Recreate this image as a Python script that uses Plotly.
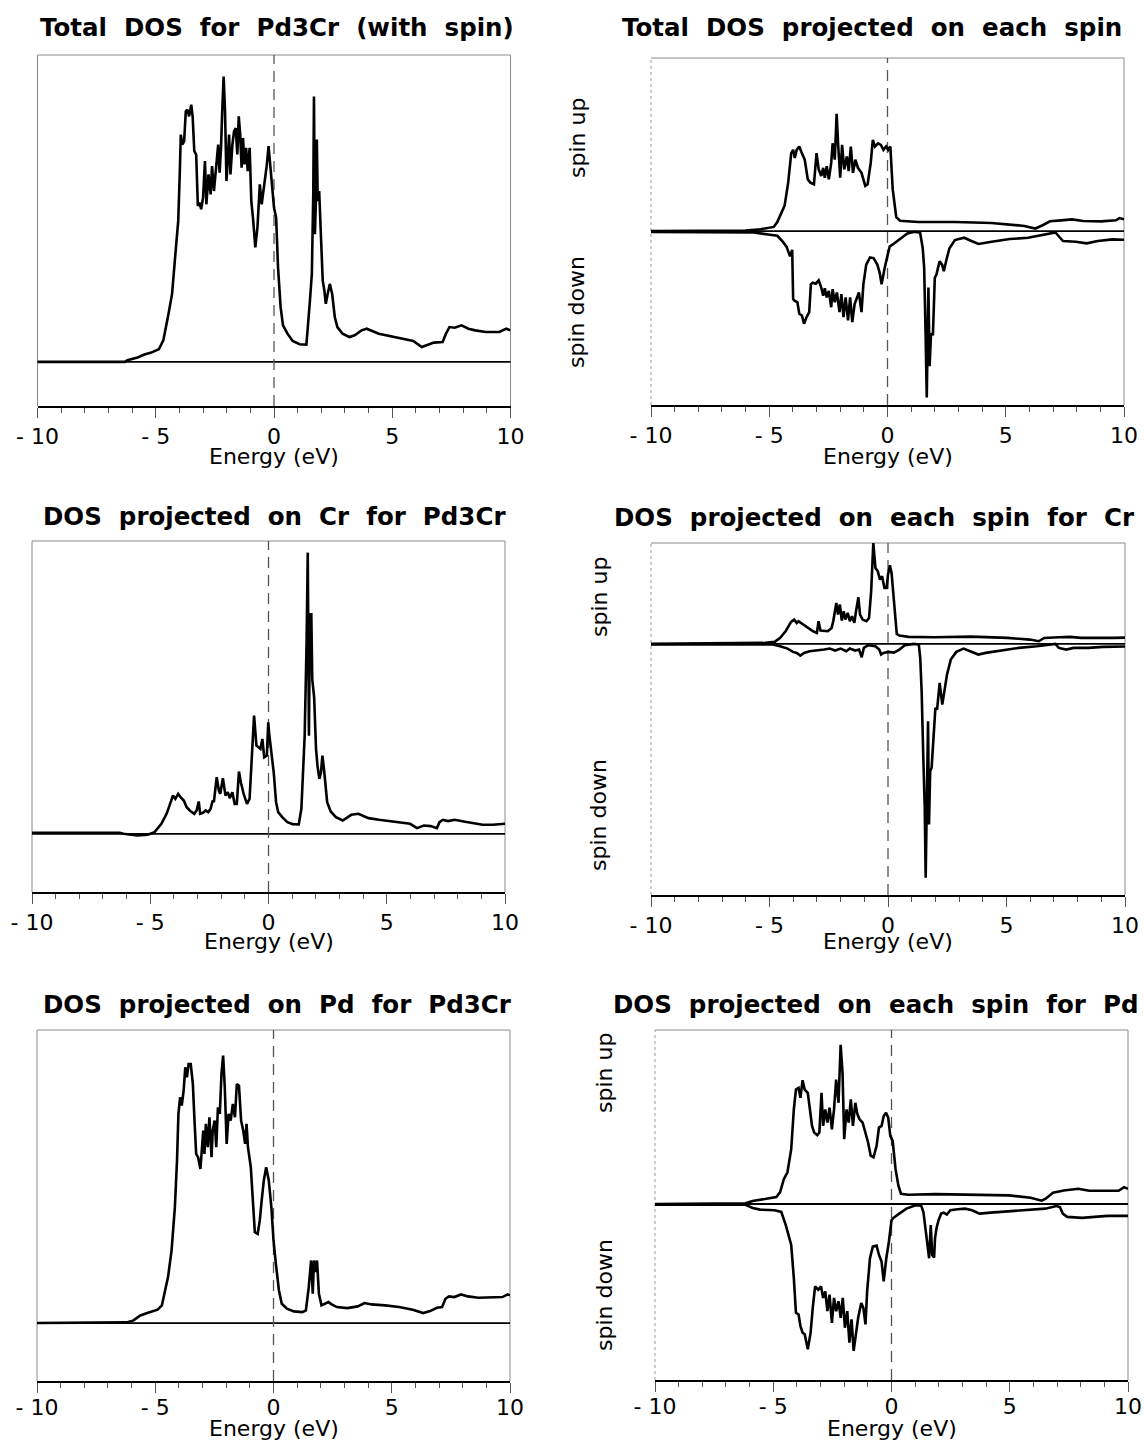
import plotly.graph_objects as go

W, H = 1144, 1441

# ---------------- data (energy in eV, DOS in arbitrary units) ----------------
tot_e = [-10, -6.3, -6.2, -5.77, -5.48, -5.19, -4.87, -4.68, -4.46, -4.31,
         -4.17, -4.05, -3.99, -3.94, -3.88, -3.80, -3.73, -3.66, -3.59, -3.50,
         -3.44, -3.37, -3.29, -3.22, -3.15, -3.08, -3.00, -2.92, -2.86, -2.77,
         -2.68, -2.62, -2.54, -2.45, -2.36, -2.30, -2.24, -2.19, -2.13, -2.07,
         -2.01, -1.95, -1.90, -1.84, -1.76, -1.69, -1.62, -1.55, -1.49, -1.43,
         -1.37, -1.31, -1.25, -1.18, -1.11, -1.03, -0.96, -0.89, -0.79, -0.70,
         -0.60, -0.52, -0.45, -0.38, -0.31, -0.23, -0.16, -0.09, 0.0, 0.09,
         0.17, 0.28, 0.38, 0.57, 0.79, 1.08, 1.37, 1.52, 1.60, 1.66,
         1.69, 1.73, 1.78, 1.81, 1.85, 1.91, 1.98, 2.06, 2.13, 2.19,
         2.27, 2.36, 2.46, 2.57, 2.68, 2.90, 3.19, 3.41, 3.70, 3.92,
         4.43, 5.16, 5.89, 6.25, 6.47, 6.76, 7.13, 7.27, 7.42, 7.64,
         7.93, 8.22, 8.51, 8.95, 9.53, 9.82, 10.0]
tot_dos = [0, 0, 5, 13, 22, 28, 38, 65, 145, 205,
           325, 425, 555, 685, 655, 665, 755, 760, 740, 775,
           740, 635, 625, 470, 480, 460, 495, 605, 475, 565,
           505, 590, 515, 580, 655, 570, 645, 755, 860, 755,
           545, 615, 685, 565, 655, 695, 705, 625, 740, 685,
           585, 675, 595, 645, 575, 645, 485, 435, 345, 405,
           535, 475, 515, 545, 590, 650, 585, 545, 465, 435,
           285, 165, 110, 85, 63, 53, 52, 185, 265, 505,
           800, 385, 505, 670, 485, 515, 365, 245, 215, 175,
           205, 235, 205, 135, 105, 85, 75, 80, 95, 100,
           85, 75, 63, 45, 50, 58, 60, 85, 105, 103,
           110, 100, 95, 90, 90, 100, 95]

tot_up_e = [-10, -6.0, -5.36, -4.81, -4.66, -4.50, -4.35, -4.20, -4.07, -3.99,
            -3.92, -3.84, -3.73, -3.65, -3.50, -3.37, -3.26, -3.11, -3.00, -2.91,
            -2.80, -2.72, -2.65, -2.57, -2.48, -2.38, -2.32, -2.23, -2.15, -2.09,
            -2.00, -1.92, -1.83, -1.72, -1.64, -1.55, -1.46, -1.36, -1.25, -1.10,
            -0.94, -0.84, -0.71, -0.62, -0.53, -0.40, -0.28, -0.17, -0.06, 0.03,
            0.12, 0.22, 0.37, 0.53, 1.30, 2.85, 4.40, 5.79, 6.25, 6.56,
            6.87, 7.34, 7.80, 8.27, 9.04, 9.66, 9.81, 10.0]
tot_up_dos = [0, 2, 6, 13, 28, 53, 78, 148, 238, 248,
              223, 248, 258, 243, 218, 158, 148, 143, 238, 188,
              168, 193, 163, 198, 158, 208, 268, 218, 358, 268,
              163, 263, 188, 228, 183, 258, 178, 218, 193, 178,
              138, 143, 208, 278, 258, 268, 263, 248, 258, 248,
              258, 128, 43, 32, 28, 28, 25, 16, 8, 18,
              30, 33, 36, 31, 30, 33, 40, 36]

tot_dn_e = [-10, -6.3, -5.67, -5.05, -4.66, -4.43, -4.27, -4.12, -4.03, -3.99,
            -3.93, -3.81, -3.73, -3.62, -3.53, -3.42, -3.31, -3.24, -3.16, -3.03,
            -2.91, -2.80, -2.72, -2.65, -2.57, -2.48, -2.38, -2.32, -2.23, -2.14,
            -2.03, -1.95, -1.86, -1.77, -1.67, -1.58, -1.49, -1.39, -1.30, -1.21,
            -1.10, -1.02, -0.90, -0.74, -0.59, -0.43, -0.33, -0.25, -0.12, 0.0,
            0.09, 0.29, 0.53, 0.84, 1.15, 1.38, 1.49, 1.55, 1.61, 1.66,
            1.70, 1.73, 1.78, 1.84, 1.92, 2.00, 2.07, 2.20, 2.31, 2.38,
            2.51, 2.62, 2.85, 3.24, 3.55, 3.85, 4.40, 5.17, 5.94, 6.72,
            7.10, 7.26, 7.42, 7.96, 8.42, 8.89, 9.51, 10.0]
tot_dn_dos = [-2, -2, -4, -10, -14, -32, -47, -77, -57, -207,
              -212, -217, -252, -257, -282, -262, -247, -162, -157, -160,
              -150, -172, -197, -174, -202, -182, -232, -177, -217, -187,
              -247, -192, -262, -202, -272, -202, -277, -222, -207, -187,
              -247, -162, -102, -80, -82, -102, -127, -162, -112, -72,
              -47, -37, -24, -7, -2, -5, -52, -112, -312, -507,
              -312, -172, -412, -312, -317, -142, -132, -92, -102, -122,
              -82, -52, -27, -20, -30, -39, -32, -24, -20, -10,
              -4, -17, -30, -32, -37, -30, -25, -26]

cr_e = [-10, -6.3, -6.13, -5.55, -5.11, -4.82, -4.53, -4.31, -4.16, -4.04,
        -3.94, -3.82, -3.72, -3.58, -3.46, -3.33, -3.14, -3.04, -2.95, -2.89,
        -2.77, -2.66, -2.55, -2.45, -2.36, -2.31, -2.19, -2.10, -2.04, -1.93,
        -1.82, -1.72, -1.64, -1.53, -1.43, -1.34, -1.25, -1.17, -1.05, -0.91,
        -0.80, -0.73, -0.61, -0.51, -0.41, -0.34, -0.26, -0.18, -0.07, -0.01,
        0.03, 0.10, 0.22, 0.32, 0.41, 0.58, 0.80, 1.02, 1.28, 1.39,
        1.46, 1.53, 1.61, 1.66, 1.71, 1.75, 1.81, 1.85, 1.93, 2.01,
        2.07, 2.15, 2.22, 2.28, 2.36, 2.48, 2.63, 2.85, 3.14, 3.36,
        3.50, 3.80, 4.23, 4.67, 5.40, 5.99, 6.28, 6.57, 6.86, 7.12,
        7.23, 7.37, 7.59, 7.88, 8.25, 8.61, 9.05, 9.49, 10.0]
cr_dos = [3, 3, 0, -5, -3, 5, 30, 60, 90, 115,
          105, 120, 110, 100, 80, 70, 60, 70, 97, 60,
          63, 70, 65, 75, 100, 95, 170, 130, 120, 167,
          115, 125, 107, 125, 90, 90, 187, 155, 120, 90,
          105, 205, 355, 265, 260, 255, 285, 230, 235, 335,
          300, 255, 185, 95, 65, 50, 35, 29, 28, 75,
          165, 295, 575, 845, 295, 660, 660, 465, 410, 255,
          205, 165, 185, 235, 185, 95, 67, 50, 40, 50,
          57, 60, 47, 42, 35, 30, 17, 25, 23, 17,
          35, 42, 38, 42, 37, 32, 27, 27, 30]

cr_up_e = [-10, -5.79, -5.17, -4.78, -4.55, -4.32, -4.09, -3.96, -3.85, -3.78,
           -3.62, -3.47, -3.31, -3.16, -3.00, -2.93, -2.85, -2.69, -2.54, -2.38,
           -2.31, -2.18, -2.11, -2.03, -1.95, -1.87, -1.80, -1.70, -1.61, -1.52,
           -1.42, -1.35, -1.25, -1.18, -1.07, -0.91, -0.80, -0.71, -0.62, -0.53,
           -0.43, -0.34, -0.25, -0.15, -0.06, 0.0, 0.08, 0.15, 0.25, 0.37,
           0.48, 0.87, 1.95, 3.50, 5.05, 5.98, 6.36, 6.59, 7.21, 7.68,
           8.14, 8.92, 9.54, 10.0]
cr_up_dos = [0, 3, 3, 6, 18, 38, 66, 73, 63, 68,
             60, 53, 45, 38, 33, 68, 40, 40, 38, 48,
             68, 123, 88, 118, 70, 98, 73, 93, 68, 83,
             63, 98, 140, 88, 73, 68, 78, 158, 303, 228,
             218, 193, 203, 168, 168, 208, 236, 213, 128, 30,
             25, 21, 20, 22, 18, 13, 8, 18, 20, 21,
             18, 17, 18, 19]

cr_dn_e = [-10, -4.86, -4.55, -4.24, -4.01, -3.85, -3.70, -3.54, -3.31, -3.00,
           -2.69, -2.46, -2.23, -2.00, -1.76, -1.61, -1.38, -1.22, -1.11, -1.02,
           -0.84, -0.53, -0.37, -0.29, -0.19, 0.02, 0.25, 0.48, 0.71, 1.10,
           1.30, 1.36, 1.42, 1.49, 1.55, 1.59, 1.64, 1.69, 1.73, 1.78,
           1.84, 1.92, 2.00, 2.07, 2.18, 2.29, 2.38, 2.49, 2.65, 2.88,
           3.19, 3.50, 3.81, 4.12, 4.74, 5.51, 6.28, 6.75, 7.06, 7.21,
           7.52, 7.83, 8.45, 9.07, 10.0]
cr_dn_dos = [-2, -2, -7, -14, -24, -27, -35, -27, -22, -20,
             -17, -14, -20, -14, -22, -14, -20, -17, -40, -12,
             -4, -7, -17, -32, -27, -24, -26, -17, -4, 0,
             -2, -42, -142, -342, -492, -702, -442, -232, -542, -382,
             -372, -262, -192, -197, -117, -182, -142, -92, -47, -24,
             -14, -22, -32, -27, -20, -12, -7, -2, 0, -12,
             -17, -12, -12, -9, -8]

pd_e = [-10, -6.3, -6.21, -5.92, -5.63, -5.34, -4.90, -4.72, -4.61, -4.46,
        -4.31, -4.17, -4.08, -4.02, -3.95, -3.88, -3.80, -3.73, -3.66, -3.59,
        -3.50, -3.41, -3.34, -3.27, -3.19, -3.09, -2.97, -2.92, -2.86, -2.78,
        -2.71, -2.62, -2.57, -2.49, -2.42, -2.35, -2.27, -2.20, -2.13, -2.06,
        -1.98, -1.90, -1.81, -1.72, -1.63, -1.55, -1.46, -1.37, -1.28, -1.20,
        -1.14, -1.08, -0.96, -0.86, -0.79, -0.67, -0.58, -0.50, -0.41, -0.31,
        -0.20, -0.09, 0.0, 0.10, 0.23, 0.35, 0.57, 0.86, 1.22, 1.37,
        1.49, 1.59, 1.66, 1.71, 1.78, 1.84, 1.92, 2.03, 2.17, 2.32,
        2.46, 2.68, 3.12, 3.56, 3.85, 4.15, 4.72, 5.31, 5.89, 6.33,
        6.62, 6.91, 7.13, 7.27, 7.42, 7.64, 7.93, 8.22, 8.66, 9.10,
        9.68, 9.90, 10.0]
pd_dos = [0, 0, 2, 8, 23, 30, 40, 53, 88, 138,
          218, 348, 488, 628, 678, 653, 698, 768, 738, 778,
          778, 718, 608, 508, 498, 463, 578, 508, 598, 528,
          618, 498, 578, 608, 528, 648, 628, 748, 803, 708,
          538, 628, 608, 658, 618, 718, 713, 608, 578, 538,
          598, 528, 468, 348, 273, 268, 308, 368, 428, 468,
          428, 348, 248, 178, 98, 58, 43, 35, 33, 38,
          108, 188, 88, 188, 153, 188, 88, 53, 58, 63,
          56, 48, 45, 50, 60, 56, 53, 48, 40, 30,
          36, 46, 48, 73, 80, 78, 86, 80, 76, 76,
          78, 86, 83]

pd_up_e = [-10, -6.2, -6.18, -5.87, -5.26, -4.87, -4.71, -4.55, -4.40, -4.24,
           -4.13, -4.04, -3.93, -3.85, -3.76, -3.67, -3.54, -3.44, -3.36, -3.27,
           -3.14, -3.05, -2.96, -2.89, -2.80, -2.71, -2.62, -2.52, -2.43, -2.34,
           -2.24, -2.15, -2.07, -2.00, -1.90, -1.81, -1.72, -1.63, -1.53, -1.44,
           -1.35, -1.22, -1.10, -0.99, -0.88, -0.76, -0.63, -0.53, -0.42, -0.33,
           -0.23, -0.14, -0.05, 0.05, 0.17, 0.29, 0.40, 0.71, 1.87, 3.41,
           4.96, 5.88, 6.35, 6.52, 6.83, 7.28, 7.90, 8.36, 8.98, 9.60,
           9.83, 10.0]
pd_up_dos = [0, 0, 2, 9, 16, 21, 36, 76, 96, 166,
             286, 346, 351, 321, 374, 346, 336, 286, 236, 216,
             208, 216, 336, 236, 286, 246, 291, 226, 286, 376,
             306, 481, 396, 196, 286, 246, 316, 236, 306, 271,
             256, 246, 216, 186, 146, 141, 176, 231, 236, 266,
             276, 261, 206, 191, 106, 56, 31, 28, 30, 29,
             26, 19, 10, 16, 34, 41, 46, 40, 39, 40,
             51, 46]

pd_dn_e = [-10, -6.2, -5.87, -5.56, -4.94, -4.66, -4.47, -4.24, -4.13, -4.04,
           -3.93, -3.85, -3.76, -3.67, -3.54, -3.42, -3.33, -3.23, -3.10, -2.98,
           -2.89, -2.80, -2.71, -2.62, -2.52, -2.43, -2.34, -2.24, -2.15, -2.06,
           -1.97, -1.87, -1.78, -1.69, -1.60, -1.50, -1.41, -1.28, -1.19, -1.10,
           -1.03, -0.91, -0.79, -0.63, -0.53, -0.42, -0.33, -0.22, -0.11, 0.0,
           0.08, 0.33, 0.63, 1.02, 1.25, 1.35, 1.44, 1.53, 1.59, 1.66,
           1.72, 1.80, 1.84, 1.90, 1.99, 2.10, 2.21, 2.34, 2.49, 2.80,
           3.11, 3.41, 3.72, 4.19, 4.96, 5.73, 6.50, 6.97, 7.12, 7.24,
           7.43, 8.05, 8.51, 9.13, 10.0]
pd_dn_dos = [-2, -2, -12, -17, -19, -24, -64, -124, -224, -329,
             -334, -369, -389, -394, -439, -389, -314, -249, -259, -249,
             -284, -264, -324, -274, -359, -284, -324, -294, -344, -284,
             -374, -324, -419, -349, -444, -394, -344, -299, -314, -364,
             -264, -164, -129, -126, -154, -174, -234, -164, -114, -49,
             -42, -29, -14, -4, -4, -24, -74, -114, -164, -64,
             -154, -162, -104, -74, -49, -29, -26, -32, -19, -16,
             -14, -19, -29, -26, -22, -20, -14, -6, -9, -29,
             -39, -42, -39, -36, -36]

tick_vals = [-10, -5, 0, 5, 10]
tick_text = ["- 10", "- 5", "0", "5", "10"]
x_label = "Energy (eV)"
spin_up_label = "spin up"
spin_down_label = "spin down"
titles = ["Total DOS for Pd3Cr (with spin)",
          "Total DOS projected on each spin",
          "DOS projected on Cr for Pd3Cr",
          "DOS projected on each spin for Cr",
          "DOS projected on Pd for Pd3Cr",
          "DOS projected on each spin for Pd"]
series = [
    [(tot_e, tot_dos)],
    [(tot_up_e, tot_up_dos), (tot_dn_e, tot_dn_dos)],
    [(cr_e, cr_dos)],
    [(cr_up_e, cr_up_dos), (cr_dn_e, cr_dn_dos)],
    [(pd_e, pd_dos)],
    [(pd_up_e, pd_up_dos), (pd_dn_e, pd_dn_dos)],
]
y_ranges = [(-133, 925), (-530, 528), (-175, 880), (-754, 303), (-174, 880), (-532, 526)]

# ---------------- layout geometry (pixels) ----------------
# x0, x1, ytop, ybottom, title center x, title y, x-label y, tick-label standoff
geom = [
    (37.5, 510.5, 55, 406, 277, 28, 456, 0),
    (651, 1124, 58, 405, 872, 28, 456, 0),
    (32, 505, 541, 892, 274, 516, 941, 0),
    (651, 1125, 543, 895, 874, 517, 941, 0),
    (37, 510, 1030, 1381, 277, 1004, 1428, -4),
    (655, 1128, 1030, 1380, 875, 1004, 1428, -4),
]
# spin label x, spin-up y, spin-down y (pixels); None for non-spin panels
spin_pos = [None, (577, 138, 312), None, (599, 597, 815), None, (604, 1073, 1295)]

FONT = "DejaVu Sans, Verdana, sans-serif"
GAP = " \u00a0"

fig = go.Figure()
layout = dict(width=W, height=H, margin=dict(l=0, r=0, t=0, b=0),
              paper_bgcolor="white", plot_bgcolor="white", showlegend=False)
shapes = []
annotations = []

for i, (g, ser, yr, sp) in enumerate(zip(geom, series, y_ranges, spin_pos), start=1):
    x0, x1, yt, yb, tx, ty, ly, stand = g
    xa = "x" if i == 1 else f"x{i}"
    ya = "y" if i == 1 else f"y{i}"
    xk = "xaxis" if i == 1 else f"xaxis{i}"
    yk = "yaxis" if i == 1 else f"yaxis{i}"
    for e, d in ser:
        fig.add_trace(go.Scatter(x=e, y=d, mode="lines", xaxis=xa, yaxis=ya,
                                 line=dict(color="black", width=2.6),
                                 hoverinfo="skip", showlegend=False))
    layout[xk] = dict(domain=[x0 / W, x1 / W], range=[-10, 10], anchor=ya,
                      tickmode="array", tickvals=tick_vals, ticktext=tick_text,
                      ticks="outside", ticklen=10, tickwidth=1, tickcolor="#555",
                      minor=dict(tickmode="linear", tick0=0, dtick=1, ticks="outside",
                                 ticklen=5, tickwidth=1, tickcolor="#555", showgrid=False),
                      showline=True, linecolor="black", linewidth=1.5,
                      showgrid=False, zeroline=False, automargin=False,
                      ticklabelstandoff=stand,
                      tickfont=dict(family=FONT, size=22, color="black"))
    layout[yk] = dict(domain=[1 - yb / H, 1 - yt / H], range=list(yr), anchor=xa,
                      visible=False, showgrid=False, zeroline=False, automargin=False)

    xd = f"{xa} domain"
    yd = f"{ya} domain"
    frame = dict(color="#8a8a8a", width=1)
    shapes.append(dict(type="line", xref=xd, yref=yd, x0=0, x1=1, y0=1, y1=1, line=frame, layer="below"))
    shapes.append(dict(type="line", xref=xd, yref=yd, x0=1, x1=1, y0=0, y1=1, line=frame, layer="below"))
    if sp:
        shapes.append(dict(type="line", xref=xd, yref=yd, x0=0, x1=0, y0=0, y1=1,
                           line=dict(color="#9a9a9a", width=1, dash="dot"), layer="below"))
    else:
        shapes.append(dict(type="line", xref=xd, yref=yd, x0=0, x1=0, y0=0, y1=1, line=frame, layer="below"))
    # zero baseline
    shapes.append(dict(type="line", xref=xd, yref=ya, x0=0, x1=1, y0=0, y1=0,
                       line=dict(color="black", width=1.8), layer="below"))
    # Fermi level
    shapes.append(dict(type="line", xref=xa, yref=yd, x0=0, x1=0, y0=0, y1=1,
                       line=dict(color="#555", width=1.3, dash="11px,7px"), layer="below"))

    annotations.append(dict(text=GAP.join(titles[i - 1].split(" ")), xref="paper", yref="paper",
                            x=tx / W, y=1 - ty / H, xanchor="center", yanchor="middle",
                            showarrow=False,
                            font=dict(family=FONT, size=24.5, color="black", weight="bold")))
    annotations.append(dict(text=x_label, xref=xa, yref="paper", x=0, y=1 - ly / H,
                            xanchor="center", yanchor="middle", showarrow=False,
                            font=dict(family=FONT, size=22, color="black")))
    if sp:
        sx, suy, sdy = sp
        annotations.append(dict(text=spin_up_label, xref="paper", yref="paper", x=sx / W,
                                y=1 - suy / H, textangle=-90,
                                xanchor="center", yanchor="middle", showarrow=False,
                                font=dict(family=FONT, size=22, color="black")))
        annotations.append(dict(text=spin_down_label, xref="paper", yref="paper", x=sx / W,
                                y=1 - sdy / H, textangle=-90,
                                xanchor="center", yanchor="middle", showarrow=False,
                                font=dict(family=FONT, size=22, color="black")))

layout["shapes"] = shapes
layout["annotations"] = annotations
fig.update_layout(**layout)
fig.write_html("out.html")
